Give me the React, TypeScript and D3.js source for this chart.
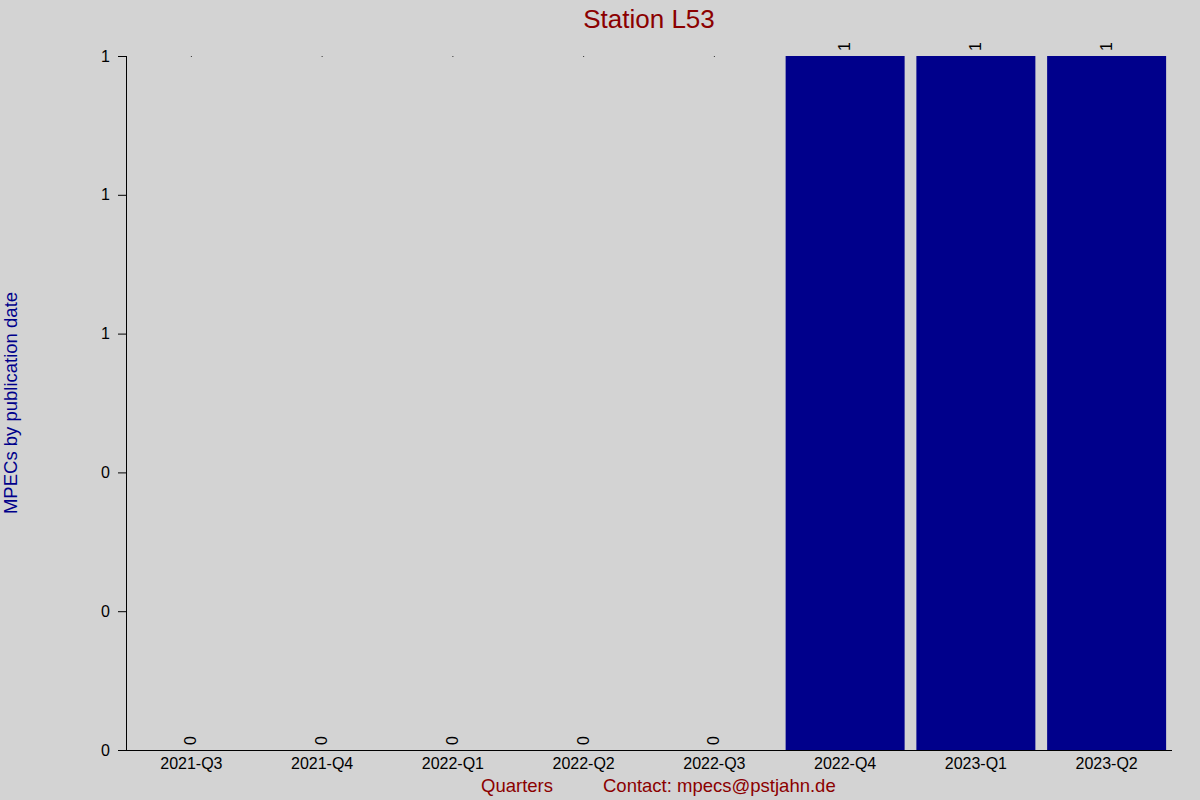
import { useRef, useEffect } from "react";
import * as d3 from "d3";

const quarters = ["2021-Q3", "2021-Q4", "2022-Q1", "2022-Q2", "2022-Q3", "2022-Q4", "2023-Q1", "2023-Q2"];
const counts = [0, 0, 0, 0, 0, 1, 1, 1];
const yTicks = [0, 0.2, 0.4, 0.6, 0.8, 1];

const W = 1200;
const H = 800;
const FONT = "Liberation Sans, Arial, sans-serif";

export default function App() {
  const svgRef = useRef<SVGSVGElement>(null);

  useEffect(() => {
    if (!svgRef.current) return;
    const svg = d3.select(svgRef.current);
    svg.selectAll("*").remove();

    const margin = { top: 56, right: 28, bottom: 50, left: 126 };

    svg.append("rect").attr("width", W).attr("height", H).attr("fill", "#d3d3d3");

    const x = d3
      .scaleBand<string>()
      .domain(quarters)
      .range([margin.left, W - margin.right])
      .paddingInner(0.09)
      .paddingOuter(0.045);
    const y = d3.scaleLinear().domain([0, 1]).range([H - margin.bottom, margin.top]);

    // bars
    svg.selectAll("rect.bar")
      .data(counts)
      .join("rect")
      .attr("class", "bar")
      .attr("x", (_d, i) => x(quarters[i])!)
      .attr("y", (d) => y(d))
      .attr("width", x.bandwidth())
      .attr("height", (d) => y(0) - y(d))
      .attr("fill", "#00008b");

    // tiny marks at the top for empty quarters
    svg.selectAll("rect.dot")
      .data(counts.map((c, i) => ({ c, q: quarters[i] })).filter((d) => d.c === 0))
      .join("rect")
      .attr("class", "dot")
      .attr("x", (d) => x(d.q)! + x.bandwidth() / 2 - 0.5)
      .attr("y", y(1))
      .attr("width", 1)
      .attr("height", 1)
      .attr("fill", "#333");

    // value labels
    svg.selectAll("text.val")
      .data(counts)
      .join("text")
      .attr("class", "val")
      .attr("transform", (d, i) => `translate(${x(quarters[i])! + x.bandwidth() / 2 + 5},${y(d) - 5}) rotate(-90)`)
      .attr("text-anchor", "start")
      .attr("fill", "#000")
      .style("font-family", FONT)
      .style("font-size", "16px")
      .text((d) => String(d));

    // y axis
    const yAxis = svg.append("g")
      .attr("transform", `translate(${margin.left},0)`)
      .call(
        d3.axisLeft(y)
          .tickValues(yTicks)
          .tickSize(8)
          .tickPadding(8)
          .tickFormat((d) => d3.format(".0f")(d as number))
      );
    yAxis.select(".domain").attr("stroke", "#000").attr("d", `M0.5,${y(1)}V${y(0)}`);
    yAxis.selectAll(".tick line").attr("stroke", "#000");
    yAxis.selectAll(".tick text")
      .attr("fill", "#000")
      .style("font-family", FONT)
      .style("font-size", "16px");

    // x axis
    const xAxis = svg.append("g")
      .attr("transform", `translate(0,${y(0)})`)
      .call(d3.axisBottom(x).tickSize(0).tickPadding(8));
    xAxis.select(".domain").attr("stroke", "#000").attr("d", `M${margin.left - 8},0.5H${W - margin.right}`);
    xAxis.selectAll(".tick text")
      .attr("fill", "#000")
      .style("font-family", FONT)
      .style("font-size", "16px");

    // title
    svg.append("text")
      .attr("x", 649)
      .attr("y", 28)
      .attr("text-anchor", "middle")
      .attr("fill", "#8b0000")
      .style("font-family", FONT)
      .style("font-size", "26px")
      .text("Station L53");

    // x label and contact
    svg.append("text")
      .attr("x", 481)
      .attr("y", 792)
      .attr("fill", "#8b0000")
      .style("font-family", FONT)
      .style("font-size", "18.5px")
      .text("Quarters");
    svg.append("text")
      .attr("x", 603)
      .attr("y", 792)
      .attr("fill", "#8b0000")
      .style("font-family", FONT)
      .style("font-size", "18.5px")
      .text("Contact: mpecs@pstjahn.de");

    // y label
    svg.append("text")
      .attr("transform", `translate(17,403) rotate(-90)`)
      .attr("text-anchor", "middle")
      .attr("fill", "#00008b")
      .style("font-family", FONT)
      .style("font-size", "18.5px")
      .text("MPECs by publication date");
  }, []);

  return (
    <svg
      ref={svgRef}
      width={W}
      height={H}
      style={{ position: "absolute", left: 0, top: 0, display: "block" }}
    />
  );
}
